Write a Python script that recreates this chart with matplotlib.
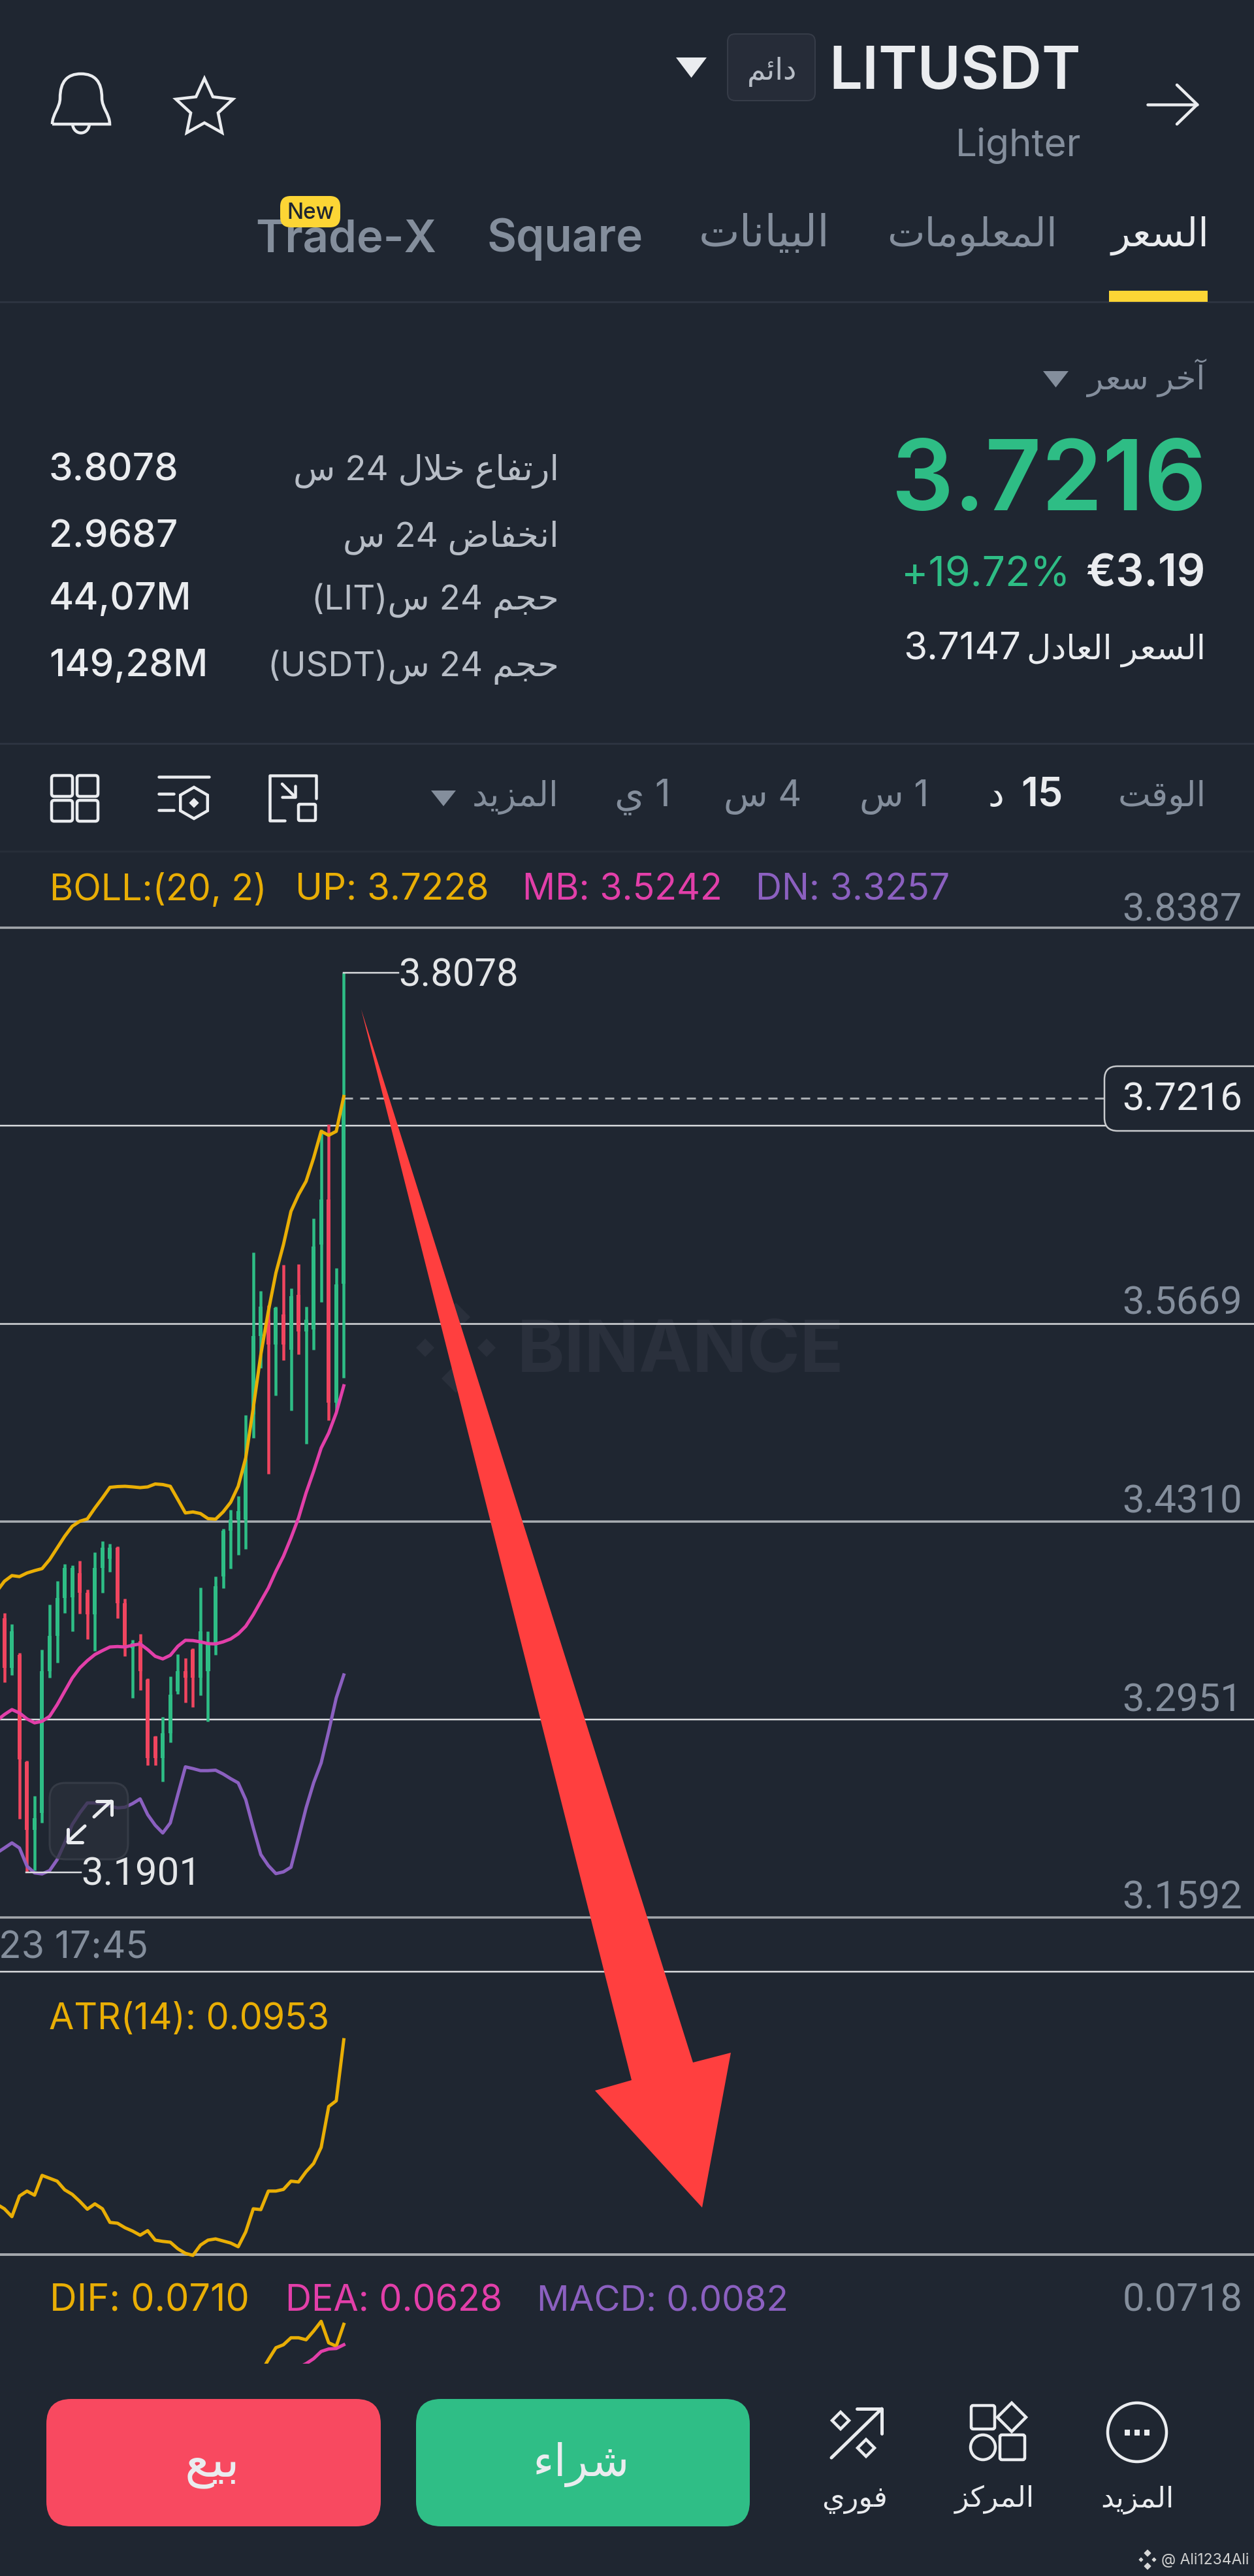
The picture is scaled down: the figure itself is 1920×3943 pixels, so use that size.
import re
import numpy as np
import matplotlib
matplotlib.use('Agg')
import matplotlib.pyplot as plt
from matplotlib.patches import FancyBboxPatch, Polygon, Circle, PathPatch
from matplotlib.path import Path

W, H = 1920, 3943
FONT = ['Inter', 'DejaVu Sans']
NUM_FONT = ['Roboto', 'DejaVu Sans']

# candles, 15 min
opens = [3.3648, 3.3305, 3.3397, 3.2660, 3.2195, 3.2310, 3.3282, 3.3523, 3.3786, 3.3790,
         3.3957, 3.3820, 3.3671, 3.3992, 3.4056, 3.4129, 3.3751, 3.3442, 3.3488, 3.3225,
         3.2836, 3.2687, 3.2859, 3.3145, 3.3282, 3.3431, 3.3236, 3.3282, 3.3465, 3.3934,
         3.4248, 3.4323, 3.4323, 3.5046, 3.5584, 3.5696, 3.5525, 3.5732, 3.5490, 3.5866,
         3.5615, 3.5629, 3.6212, 3.6521, 3.5126, 3.5943]
closes = [3.3305, 3.3557, 3.2676, 3.2195, 3.2275, 3.3282, 3.3523, 3.3786, 3.3992, 3.3992,
          3.3820, 3.3671, 3.3992, 3.4129, 3.4129, 3.3751, 3.3442, 3.3477, 3.3282, 3.2687,
          3.2687, 3.2859, 3.3122, 3.3282, 3.3236, 3.3236, 3.3557, 3.3477, 3.3866, 3.4248,
          3.4323, 3.4381, 3.4735, 3.5584, 3.5786, 3.5525, 3.5777, 3.5525, 3.5857, 3.5615,
          3.5696, 3.6198, 3.6521, 3.5126, 3.5938, 3.7216]
highs = [3.3683, 3.3607, 3.3408, 3.2669, 3.2424, 3.3431, 3.3740, 3.3900, 3.4019, 3.4010,
         3.4042, 3.3843, 3.4099, 3.4175, 3.4159, 3.4140, 3.3779, 3.3500, 3.3539, 3.3232,
         3.2841, 3.2969, 3.3248, 3.3401, 3.3374, 3.3442, 3.3859, 3.3557, 3.3934, 3.4262,
         3.4392, 3.4484, 3.5040, 3.6158, 3.5895, 3.5795, 3.5784, 3.6073, 3.5911, 3.6077,
         3.5786, 3.6391, 3.7001, 3.7037, 3.6050, 3.8078]
lows = [3.3207, 3.3255, 3.2269, 3.1901, 3.1916, 3.2241, 3.3236, 3.3339, 3.3683, 3.3557,
        3.3676, 3.3504, 3.3420, 3.3820, 3.3964, 3.3648, 3.3385, 3.3099, 3.3152, 3.2637,
        3.2635, 3.2527, 3.2795, 3.3127, 3.3069, 3.3037, 3.3115, 3.2939, 3.3397, 3.3854,
        3.3985, 3.4083, 3.4122, 3.4884, 3.5364, 3.4637, 3.5176, 3.5418, 3.5072, 3.5458,
        3.4844, 3.5490, 3.5817, 3.5005, 3.5068, 3.5297]

# indicators start one bar left of the first candle, that bar is off screen
boll_up = [3.3831, 3.3900, 3.3939, 3.3932, 3.3957, 3.3973, 3.3987, 3.4049, 3.4129, 3.4209,
           3.4278, 3.4312, 3.4328, 3.4403, 3.4472, 3.4545, 3.4550, 3.4552, 3.4548, 3.4543,
           3.4548, 3.4568, 3.4564, 3.4552, 3.4461, 3.4369, 3.4376, 3.4365, 3.4330, 3.4326,
           3.4376, 3.4442, 3.4552, 3.4747, 3.5090, 3.5456, 3.5754, 3.6017, 3.6211, 3.6440,
           3.6554, 3.6646, 3.6806, 3.6989, 3.6962, 3.6989, 3.7228]
boll_mb = [3.2944, 3.2985, 3.3019, 3.2996, 3.2955, 3.2928, 3.2939, 3.2973, 3.3053, 3.3145,
           3.3236, 3.3305, 3.3355, 3.3397, 3.3424, 3.3449, 3.3452, 3.3449, 3.3461, 3.3470,
           3.3431, 3.3385, 3.3367, 3.3392, 3.3454, 3.3495, 3.3493, 3.3484, 3.3472, 3.3470,
           3.3484, 3.3504, 3.3539, 3.3591, 3.3671, 3.3763, 3.3854, 3.3969, 3.4072, 3.4198,
           3.4335, 3.4507, 3.4655, 3.4815, 3.4918, 3.5056, 3.5242]
boll_dn = [3.2035, 3.2069, 3.2104, 3.2069, 3.1944, 3.1898, 3.1891, 3.1914, 3.1989, 3.2104,
           3.2230, 3.2310, 3.2378, 3.2378, 3.2374, 3.2356, 3.2344, 3.2349, 3.2374, 3.2406,
           3.2298, 3.2225, 3.2172, 3.2241, 3.2436, 3.2626, 3.2614, 3.2600, 3.2600, 3.2603,
           3.2577, 3.2545, 3.2516, 3.2401, 3.2207, 3.2024, 3.1948, 3.1893, 3.1905, 3.1937,
           3.2138, 3.2344, 3.2516, 3.2653, 3.2870, 3.3099, 3.3257]
atr_vals = [0.0554, 0.0543, 0.0524, 0.0574, 0.0586, 0.0576, 0.0624, 0.0617, 0.0610, 0.0589,
            0.0578, 0.0561, 0.0542, 0.0555, 0.0543, 0.0510, 0.0508, 0.0497, 0.0489, 0.0479,
            0.0490, 0.0467, 0.0464, 0.0462, 0.0446, 0.0435, 0.0430, 0.0455, 0.0467, 0.0470,
            0.0465, 0.0460, 0.0451, 0.0487, 0.0543, 0.0541, 0.0586, 0.0586, 0.0590, 0.0610,
            0.0608, 0.0633, 0.0653, 0.0692, 0.0791, 0.0805, 0.0953]
dif_idx = [34, 35, 36, 37, 38, 39, 40, 41, 42, 43, 44, 45]
dif_vals = [0.0516, 0.0568, 0.0616, 0.0628, 0.0656, 0.0656, 0.0648, 0.0683, 0.0722, 0.0636, 0.0622, 0.0710]
dea_idx = [39, 40, 41, 42, 43, 44, 45]
dea_vals = [0.0537, 0.0552, 0.0572, 0.0601, 0.0611, 0.0613, 0.0628]

price_ticks = [3.8387, 3.7028, 3.5669, 3.4310, 3.2951, 3.1592]
tick_labels = ['3.8387', '', '3.5669', '3.4310', '3.2951', '3.1592']
last_price = 3.7216
high_price = 3.8078
low_price = 3.1901

BG = '#1F2631'
SEP = '#2C3340'
GREEN = '#2EBD85'
RED = '#F0455F'
ORANGE = '#E9AE05'
PINK = '#E23FA9'
PURPLE = '#8B60C0'
GREY = '#848E9C'
LIGHT = '#B7BDC6'
WHITE = '#EAECEF'

# matplotlib does no arabic shaping, so map letters to presentation forms
FORMS = {
    'ء': (0xFE80,), 'آ': (0xFE81, 0xFE82), 'ئ': (0xFE89, 0xFE8A, 0xFE8B, 0xFE8C),
    'ا': (0xFE8D, 0xFE8E), 'ب': (0xFE8F, 0xFE90, 0xFE91, 0xFE92),
    'ت': (0xFE95, 0xFE96, 0xFE97, 0xFE98), 'ج': (0xFE9D, 0xFE9E, 0xFE9F, 0xFEA0),
    'ح': (0xFEA1, 0xFEA2, 0xFEA3, 0xFEA4), 'خ': (0xFEA5, 0xFEA6, 0xFEA7, 0xFEA8),
    'د': (0xFEA9, 0xFEAA), 'ر': (0xFEAD, 0xFEAE), 'ز': (0xFEAF, 0xFEB0),
    'س': (0xFEB1, 0xFEB2, 0xFEB3, 0xFEB4), 'ش': (0xFEB5, 0xFEB6, 0xFEB7, 0xFEB8),
    'ض': (0xFEBD, 0xFEBE, 0xFEBF, 0xFEC0), 'ع': (0xFEC9, 0xFECA, 0xFECB, 0xFECC),
    'ف': (0xFED1, 0xFED2, 0xFED3, 0xFED4), 'ق': (0xFED5, 0xFED6, 0xFED7, 0xFED8),
    'ك': (0xFED9, 0xFEDA, 0xFEDB, 0xFEDC), 'ل': (0xFEDD, 0xFEDE, 0xFEDF, 0xFEE0),
    'م': (0xFEE1, 0xFEE2, 0xFEE3, 0xFEE4), 'ن': (0xFEE5, 0xFEE6, 0xFEE7, 0xFEE8),
    'و': (0xFEED, 0xFEEE), 'ي': (0xFEF1, 0xFEF2, 0xFEF3, 0xFEF4),
}


def shape_word(word):
    out = []
    i = 0
    joins_prev = False
    while i < len(word):
        ch = word[i]
        if ch == 'ل' and i + 1 < len(word) and word[i + 1] == 'ا':
            out.append(chr(0xFEFC if joins_prev else 0xFEFB))
            joins_prev = False
            i += 2
            continue
        forms = FORMS[ch]
        has_next = i + 1 < len(word)
        if len(forms) == 4:
            if joins_prev and has_next:
                out.append(chr(forms[3]))
            elif joins_prev:
                out.append(chr(forms[1]))
            elif has_next:
                out.append(chr(forms[2]))
            else:
                out.append(chr(forms[0]))
            joins_prev = has_next
        else:
            out.append(chr(forms[1] if joins_prev and len(forms) > 1 else forms[0]))
            joins_prev = False
        i += 1
    return ''.join(reversed(out))


def ar(s):
    tokens = re.findall(r'[\u0600-\u06FF]+|[A-Za-z0-9.,()]+|\s+', s)
    tokens = [shape_word(t) if '\u0600' <= t[0] <= '\u06FF' else t for t in tokens]
    return ''.join(reversed(tokens))


fig = plt.figure(figsize=(W / 100, H / 100), dpi=100, facecolor=BG)


def pane(top, bottom):
    a = fig.add_axes([0, 1 - bottom / H, 1, (bottom - top) / H], facecolor='none')
    a.set_xlim(-0.58, 165.68)
    a.set_xticks([])
    a.set_yticks([])
    for s in a.spines.values():
        s.set_visible(False)
    return a


px = 0.72  # one pixel in points at dpi 100
LINE = 5 * px

# price pane
ax = pane(1420, 2935)
ax.set_ylim(price_ticks[-1], price_ticks[0])
line_colors = ['#A3A7AC', '#DADCDF', '#B9BCC0', '#A9ADB2', '#DADCDF', '#A3A7AC']
line_widths = [3.5, 2.5, 3, 3.5, 2.5, 3.5]
for p, c, w in zip(price_ticks, line_colors, line_widths):
    ax.axhline(p, color=c, lw=w * px, clip_on=False, zorder=1)

idx = np.arange(len(opens))
colors = [GREEN if c >= o else RED for o, c in zip(opens, closes)]
ax.vlines(idx, lows, highs, colors=colors, lw=4.5 * px, zorder=2)
ax.bar(idx, np.abs(np.array(closes) - np.array(opens)), bottom=np.minimum(opens, closes),
       width=0.52, color=colors, zorder=2)

line_idx = np.arange(-1, 46)
ax.plot(line_idx, boll_up, color=ORANGE, lw=LINE, zorder=3, solid_joinstyle='round')
ax.plot(line_idx, boll_mb, color=PINK, lw=LINE, zorder=3)
ax.plot(line_idx, boll_dn, color=PURPLE, lw=LINE, zorder=3)

# last price, high and low markers
ax.plot([45, 146], [last_price, last_price], color='#A9ADB2', lw=3 * px,
        dashes=(14 / 3, 11 / 3), zorder=2)
ax.plot([45, 52.2], [high_price, high_price], color='#DADCDF', lw=2.5 * px, zorder=3)
ax.plot([2.9, 10.2], [low_price, low_price], color='#DADCDF', lw=2.5 * px, zorder=3)

# ATR pane
ax_atr = pane(3018, 3451)
ax_atr.set_ylim(0.0432, 0.1118)
ax_atr.axhline(0.1118, color='#DADCDF', lw=2.5 * px, clip_on=False)
ax_atr.axhline(0.0432, color='#A3A7AC', lw=4 * px, clip_on=False)
ax_atr.plot(line_idx, atr_vals, color=ORANGE, lw=LINE, clip_on=False)

# MACD pane, cut at the bottom by the button bar
ax_macd = pane(3451, 3618)
ax_macd.set_ylim(0.0552, 0.0990)
ax_macd.plot(dif_idx, dif_vals, color=ORANGE, lw=LINE)
ax_macd.plot(dea_idx, dea_vals, color=PINK, lw=LINE)

# everything else is screen furniture, placed in pixels
ui = fig.add_axes([0, 0, 1, 1], facecolor='none')
ui.set_xlim(0, W)
ui.set_ylim(H, 0)
ui.axis('off')


def txt(x, y, s, size, color=WHITE, ha='left', weight='normal', zorder=8, font=FONT):
    return ui.text(x, y, s, fontsize=size, color=color, ha=ha, va='baseline',
                   family=font, fontweight=weight, zorder=zorder)


def box(x0, y0, x1, y1, r, fc, ec='none', lw=0, zorder=6, alpha=None):
    p = FancyBboxPatch((x0 + r, y0 + r), x1 - x0 - 2 * r, y1 - y0 - 2 * r,
                       boxstyle='round,pad=%f,rounding_size=%f' % (r, r),
                       fc=fc, ec=ec, lw=lw * px, zorder=zorder, alpha=alpha)
    ui.add_patch(p)
    return p


def stroke(xs, ys, lw=4.5, color=WHITE, zorder=8):
    ui.plot(xs, ys, color=color, lw=lw * px, zorder=zorder, solid_capstyle='round',
            solid_joinstyle='round')


def tri(x0, x1, y0, y1, color):
    ui.add_patch(Polygon([(x0, y0), (x1, y0), ((x0 + x1) / 2, y1)], closed=True, fc=color,
                         ec='none', zorder=8))


def diamond(cx, cy, r, color=WHITE, lw=4.5, fill=False, zorder=8):
    ui.add_patch(Polygon([(cx, cy - r), (cx + r, cy), (cx, cy + r), (cx - r, cy)], closed=True,
                         fc=color if fill else 'none', ec=color, lw=lw * px, zorder=zorder))


def ring_square(x0, y0, x1, y1, lw=4.5):
    box(x0, y0, x1, y1, 3, 'none', ec=WHITE, lw=lw, zorder=8)


# header
txt(1655, 136, 'LITUSDT', 65, ha='right', weight='semibold')
box(1114, 52, 1248, 154, 12, '#262C38', ec='#363C48', lw=2)
txt(1182, 122, ar('دائم'), 33, color=LIGHT, ha='center')
tri(1035, 1082, 88, 119, WHITE)
stroke([1757, 1833], [160, 160])
stroke([1802, 1833, 1802], [130, 160, 190])
txt(1656, 239, 'Lighter', 42, color=GREY, ha='right')

# bell and star
bell = Path([(80, 190), (168, 190), (168, 175), (156, 165), (156, 150), (156, 125), (145, 113),
             (124, 113), (103, 113), (92, 125), (92, 150), (92, 165), (80, 175), (80, 190)],
            [1, 2, 4, 4, 4, 4, 4, 4, 4, 4, 4, 4, 4, 4])
ui.add_patch(PathPatch(bell, fc='none', ec=WHITE, lw=4.5 * px, zorder=8))
clapper = Path([(111, 190), (113, 208), (135, 208), (137, 190)], [1, 4, 4, 4])
ui.add_patch(PathPatch(clapper, fc='none', ec=WHITE, lw=4.5 * px, zorder=8))
ang = np.deg2rad(np.arange(10) * 36 - 90)
rad = np.array([46, 22] * 5)
ui.add_patch(Polygon(np.column_stack([313 + rad * np.cos(ang), 166 + rad * np.sin(ang)]),
                     closed=True, fc='none', ec=WHITE, lw=4.5 * px, zorder=8))

# tabs
txt(1851, 377, ar('السعر'), 43, ha='right')
txt(1619, 377, ar('المعلومات'), 44, color=GREY, ha='right')
txt(1271, 377, ar('البيانات'), 48, color=GREY, ha='right')
txt(985, 385, 'Square', 50, color=GREY, ha='right', weight='semibold')
txt(668, 385, 'Trade-X', 49.5, color=GREY, ha='right', weight='semibold')
box(429, 300, 521, 348, 16, '#FCD535', zorder=9)
txt(475, 335, 'New', 24, color='#1F2631', ha='center', weight='medium', zorder=10)
ui.add_patch(plt.Rectangle((1698, 445), 151, 17, fc='#FCD535', ec='none', zorder=7))
ui.plot([0, W], [462, 462], color=SEP, lw=3 * px, zorder=5)

# price block
txt(1845, 596, ar('آخر سعر'), 36, color=GREY, ha='right')
tri(1597, 1636, 568, 593, GREY)
txt(1847, 781, '3.7216', 108, color=GREEN, ha='right', weight='semibold')
txt(1638, 897, '+19.72%', 45, color=GREEN, ha='right')
txt(1846, 897, '€3.19', 49, ha='right', weight='semibold')
txt(1846, 1009, ar('السعر العادل'), 37, ha='right', color=WHITE)
txt(1563, 1009, '3.7147', 42, ha='right')

# 24h stats
stat_vals = ['3.8078', '2.9687', '44,07M', '149,28M']
stat_names = ['ارتفاع خلال 24 س', 'انخفاض 24 س', 'حجم 24 س(LIT)', 'حجم 24 س(USDT)']
stat_base = [735, 837, 933, 1035]
for v, n, b in zip(stat_vals, stat_names, stat_base):
    txt(75, b, v, 42, weight='medium')
    txt(856, b, ar(n), 38, color=LIGHT, ha='right')
ui.plot([0, W], [1138, 1138], color=SEP, lw=3 * px, zorder=5)

# timeframe row
txt(1847, 1234, ar('الوقت'), 38, color=GREY, ha='right')
txt(1628, 1234, '15', 44, ha='right', weight='semibold')
txt(1537, 1234, ar('د'), 40, ha='right')
txt(1422, 1234, ar('1 س'), 40, color=GREY, ha='right')
txt(1227, 1234, ar('4 س'), 40, color=GREY, ha='right')
txt(1027, 1234, ar('1 ي'), 42, color=GREY, ha='right')
txt(855, 1234, ar('المزيد'), 38, color=GREY, ha='right')
tri(660, 698, 1210, 1234, GREY)
for x0, x1 in [(79, 111), (118, 150)]:
    for y0, y1 in [(1187, 1219), (1225, 1257)]:
        box(x0, y0, x1, y1, 4, 'none', ec=WHITE, lw=4.5, zorder=8)
stroke([243, 320], [1189, 1189])
stroke([243, 266], [1215, 1215])
stroke([243, 266], [1240, 1240])
ang = np.deg2rad(np.arange(6) * 60 + 30)
ui.add_patch(Polygon(np.column_stack([297 + 24 * np.cos(ang), 1229 + 24 * np.sin(ang)]), closed=True,
                     fc='none', ec=WHITE, lw=4.5 * px, zorder=8))
diamond(297, 1229, 7, fill=True, lw=1)
stroke([436, 413, 413, 484, 484], [1256, 1256, 1187, 1187, 1222])
box(457, 1231, 483, 1256, 2, 'none', ec=WHITE, lw=4.5, zorder=8)
stroke([432, 452], [1200, 1220])
stroke([452, 452, 432], [1203, 1220, 1220])
ui.plot([0, W], [1303, 1303], color='#262D38', lw=3 * px, zorder=5)

# indicator legends
txt(76, 1378, 'BOLL:(20, 2)', 40, color=ORANGE)
txt(452, 1378, 'UP: 3.7228', 40.5, color=ORANGE)
txt(800, 1378, 'MB: 3.5242', 40, color=PINK)
txt(1157, 1378, 'DN: 3.3257', 40, color=PURPLE)
txt(75, 3106, 'ATR(14): 0.0953', 40, color=ORANGE)
txt(76, 3537, 'DIF: 0.0710', 41.5, color=ORANGE)
txt(437, 3537, 'DEA: 0.0628', 40, color=PINK)
txt(822, 3537, 'MACD: 0.0082', 39.5, color=PURPLE)
txt(1902, 3537, '0.0718', 43, color=GREY, ha='right', font=NUM_FONT)

# axis labels sit just above their grid lines
tick_base = [1409, None, 2012, 2316, 2619, 2922]
for lab, b in zip(tick_labels, tick_base):
    if lab:
        txt(1902, b, lab, 43, color=GREY, ha='right', font=NUM_FONT)

box(1691, 1632, 1960, 1731, 20, BG, ec='#C9CBCE', lw=2.5, zorder=7)
txt(1902, 1699, '3.7216', 43, ha='right', font=NUM_FONT)
txt(610, 1509, '3.8078', 43, color='#E4E6E8', font=NUM_FONT)
txt(124, 2885, '3.1901', 43, color='#E4E6E8', font=NUM_FONT)
txt(-2, 2997, '23 17:45', 41, color=GREY)

# watermark, behind the marks
ui.set_zorder(5)
for a in (ax, ax_atr, ax_macd):
    a.set_zorder(1)
wm = fig.add_axes([0, 0, 1, 1], facecolor='none', zorder=0)
wm.set_xlim(0, W)
wm.set_ylim(H, 0)
wm.axis('off')
for cx, cy, r in [(651, 2063, 14), (698, 2063, 14), (745, 2063, 14), (698, 2016, 22), (698, 2110, 22)]:
    wm.add_patch(Polygon([(cx, cy - r), (cx + r, cy), (cx, cy + r), (cx - r, cy)], closed=True,
                         fc='#2A303C', ec='none'))
wm.text(792, 2100, 'BINANCE', fontsize=79, color='#2A303C', fontweight='bold', family=FONT, va='baseline')

# expand button
box(76, 2729, 196, 2846, 24, '#2B303B', ec='#3D424D', lw=3, zorder=7, alpha=0.72)
stroke([104, 130], [2819, 2795], lw=5, zorder=8)
stroke([170, 144], [2757, 2781], lw=5, zorder=8)
stroke([104, 104, 126], [2800, 2820, 2820], lw=5, zorder=8)
stroke([148, 171, 171], [2757, 2757, 2778], lw=5, zorder=8)

# red hand drawn arrow over the chart
ui.add_patch(Polygon([(553, 1545), (1061, 3157), (1119, 3142), (1075, 3379), (911, 3200), (967, 3184)],
                     closed=True, fc='#FF3F3F', ec='none', zorder=7))

# bottom bar
box(71, 3672, 583, 3867, 38, '#F84960')
box(637, 3672, 1148, 3867, 38, '#2FBE86')
txt(325, 3790, ar('بيع'), 55, ha='center')
txt(890, 3790, ar('شراء'), 50, ha='center')

ui.add_patch(Circle((1741, 3723), 45, fc='none', ec=WHITE, lw=4.5 * px, zorder=8))
for dx in (-15, 0, 15):
    ui.add_patch(plt.Rectangle((1741 + dx - 4, 3719), 8, 9, fc=WHITE, ec='none', zorder=8))
txt(1741, 3837, ar('المزيد'), 32, color=WHITE, ha='center')

ring_square(1487, 3682, 1523, 3718)
diamond(1549, 3700, 22)
ui.add_patch(Circle((1505, 3746), 19, fc='none', ec=WHITE, lw=4.5 * px, zorder=8))
ring_square(1531, 3727, 1569, 3765)
txt(1523, 3837, ar('المركز'), 32, color=WHITE, ha='center')

stroke([1273, 1350], [3762, 3687], lw=5)
stroke([1312, 1350, 1350], [3687, 3687, 3725], lw=5)
diamond(1287, 3705, 13)
diamond(1326, 3747, 13)
txt(1309, 3837, ar('فوري'), 32, color=WHITE, ha='center')

# repost credit, bottom right
for cx, cy, r in [(1757, 3908, 5), (1757, 3928, 5), (1747, 3918, 3), (1767, 3918, 3)]:
    diamond(cx, cy, r, color='#D8D8D8', lw=1, fill=True)
txt(1912, 3925, '@ Ali1234Ali', 16.5, color='#D0D0D0', ha='right')

fig.savefig('out.png', dpi=100, facecolor=BG)
